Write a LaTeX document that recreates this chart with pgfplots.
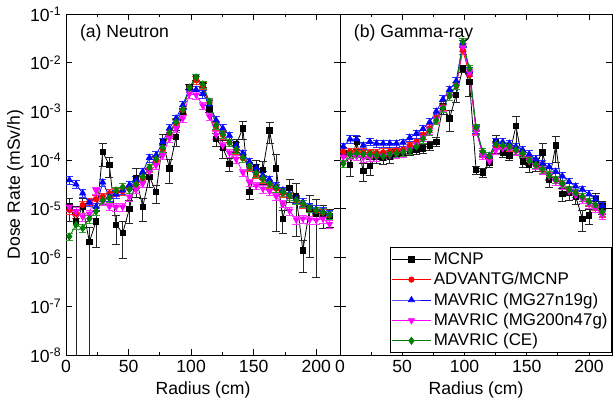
\documentclass[border=0pt]{standalone}
\usepackage{fontspec}
\setmainfont{Liberation Sans}
\usepackage{pgfplots}
\usepackage{pgfplotstable}
\pgfplotsset{compat=1.18}
\definecolor{cad}{RGB}{255,0,0}
\definecolor{cmga}{RGB}{0,0,255}
\definecolor{cmgb}{RGB}{255,0,255}
\definecolor{cce}{RGB}{0,128,0}

% Panel (a) Neutron
\pgfplotstableread{
x mc emc ad mga mgb ce
2.67 1.12e-5 0.5 9.5e-6 3.9e-5 1.1e-5 2.7e-6
8.00 5.6e-6 0.9999 7.9e-6 3.2e-5 8.9e-6 4.7e-6
13.33 1.12e-5 0.5 1.2e-5 2.1e-5 6.9e-6 4.0e-6
18.67 2.1e-6 0.9999 1.41e-5 1.35e-5 7.9e-6 6.3e-6
24.00 5.5e-6 0.7 1.58e-5 1.1e-5 2.4e-5 8.9e-6
29.33 1.48e-4 0.5 1.78e-5 3.5e-5 1.41e-5 1.5e-5
34.67 7.9e-5 0.45 2.1e-5 1.78e-5 1.12e-5 1.66e-5
40.00 4.7e-6 0.6 2.24e-5 2.0e-5 1.1e-5 2.4e-5
45.33 3.2e-6 0.7 2.3e-5 2.4e-5 1.1e-5 2.8e-5
50.67 1.0e-5 0.5 2.6e-5 3.1e-5 1.78e-5 2.5e-5
56.00 4.3e-5 0.6 3.2e-5 3.9e-5 2.5e-5 3.2e-5
61.33 1.1e-5 0.5 4.3e-5 5.8e-5 3.3e-5 4.5e-5
66.67 4.6e-5 0.4 6.8e-5 1.12e-4 5.8e-5 7.1e-5
72.00 2.2e-5 0.4 9.8e-5 1.26e-4 7.9e-5 1.05e-4
77.33 2.4e-4 0.4 1.7e-4 2.4e-4 1.26e-4 1.8e-4
82.67 6.8e-5 0.5 3.5e-4 4.5e-4 2.8e-4 3.7e-4
88.00 3.0e-4 0.35 5.8e-4 7.2e-4 4.5e-4 6.0e-4
93.33 1.0e-3 0.15 1.07e-3 1.35e-3 7.2e-4 1.1e-3
98.67 3.2e-3 0.1 3.1e-3 2.95e-3 2.3e-3 3.1e-3
104.00 4.8e-3 0.1 4.4e-3 2.8e-3 2.2e-3 5.0e-3
109.33 3.5e-3 0.1 3.4e-3 2.3e-3 1.32e-3 3.6e-3
114.67 1.15e-3 0.15 1.5e-3 1.41e-3 7.9e-4 1.58e-3
120.00 2.7e-4 0.3 5.0e-4 6.6e-4 3.3e-4 5.2e-4
125.33 1.8e-4 0.4 3.3e-4 4.5e-4 2.0e-4 3.4e-4
130.67 8.3e-5 0.3 2.3e-4 3.2e-4 1.41e-4 2.3e-4
136.00 2.1e-4 0.3 1.62e-4 2.0e-4 1.05e-4 1.66e-4
141.33 4.5e-4 0.4 1.1e-4 1.38e-4 5.6e-5 1.12e-4
146.67 2.2e-5 0.3 7.2e-5 9.3e-5 3.5e-5 7.6e-5
152.00 7.1e-5 0.4 5.1e-5 6.8e-5 3.0e-5 5.4e-5
157.33 6.3e-5 0.5 4.1e-5 4.9e-5 2.6e-5 4.2e-5
162.67 4.1e-4 0.45 3.2e-5 4.0e-5 2.3e-5 3.3e-5
168.00 6.8e-5 0.95 2.6e-5 3.0e-5 1.8e-5 2.7e-5
173.33 6.2e-6 0.5 2.1e-5 2.4e-5 1.29e-5 2.2e-5
178.67 2.7e-5 0.5 1.8e-5 2.0e-5 9.1e-6 1.86e-5
184.00 1.8e-5 0.85 1.48e-5 1.62e-5 6.0e-6 1.5e-5
189.33 1.4e-6 0.65 1.26e-5 1.38e-5 6.3e-6 1.29e-5
194.67 1.0e-5 0.9 1.02e-5 1.12e-5 6.0e-6 1.05e-5
200.00 7.9e-6 0.95 9.1e-6 9.8e-6 5.9e-6 9.3e-6
205.33 7.9e-6 0.5 8.3e-6 8.9e-6 6.3e-6 8.5e-6
210.67 7.1e-6 0.4 7.4e-6 7.9e-6 4.9e-6 7.6e-6
}\dataA

% Panel (b) Gamma-ray
\pgfplotstableread{
x mc emc ad mga mgb ce
2.67 1.41e-4 0.3 1.48e-4 1.9e-4 1.17e-4 8.5e-5
8.00 7.9e-5 0.4 1.5e-4 2.7e-4 1.26e-4 1.32e-4
13.33 2.4e-4 0.3 1.48e-4 2.7e-4 1.2e-4 1.38e-4
18.67 6.0e-5 0.4 1.45e-4 2.0e-4 1.12e-4 1.32e-4
24.00 7.6e-5 0.35 1.41e-4 2.4e-4 1.17e-4 1.32e-4
29.33 1.17e-4 0.25 1.41e-4 2.2e-4 1.17e-4 1.26e-4
34.67 1.1e-4 0.25 1.45e-4 2.2e-4 1.2e-4 1.2e-4
40.00 1.17e-4 0.25 1.5e-4 2.2e-4 1.26e-4 1.32e-4
45.33 1.38e-4 0.2 1.58e-4 2.2e-4 1.32e-4 1.38e-4
50.67 1.41e-4 0.2 1.66e-4 2.3e-4 1.41e-4 1.45e-4
56.00 1.58e-4 0.2 2.0e-4 2.9e-4 1.66e-4 1.58e-4
61.33 1.66e-4 0.2 2.4e-4 3.5e-4 2.1e-4 1.9e-4
66.67 1.74e-4 0.2 3.2e-4 4.4e-4 2.9e-4 2.75e-4
72.00 2.0e-4 0.2 4.5e-4 6.0e-4 4.2e-4 4.0e-4
77.33 2.4e-4 0.2 7.4e-4 1.0e-3 6.9e-4 6.6e-4
82.67 1.26e-3 0.3 1.26e-3 1.78e-3 1.2e-3 1.17e-3
88.00 7.2e-4 0.45 2.1e-3 2.8e-3 2.1e-3 2.1e-3
93.33 2.2e-3 0.3 3.4e-3 4.2e-3 3.4e-3 3.4e-3
98.67 7.6e-3 0.15 1.82e-2 2.5e-2 2.1e-2 2.7e-2
104.00 4.1e-3 0.5 5.6e-3 6.8e-3 6.3e-3 7.6e-3
109.33 6.3e-5 0.2 4.2e-4 4.4e-4 4.0e-4 4.7e-4
114.67 5.6e-5 0.2 1.38e-4 1.45e-4 1.26e-4 1.5e-4
120.00 8.9e-5 0.2 1.12e-4 1.23e-4 9.5e-5 1.2e-4
125.33 2.3e-4 0.4 2.0e-4 2.4e-4 1.62e-4 2.1e-4
130.67 1.41e-4 0.2 2.0e-4 2.35e-4 1.74e-4 2.0e-4
136.00 1.26e-4 0.2 1.86e-4 2.2e-4 1.74e-4 1.9e-4
141.33 5.0e-4 0.55 1.58e-4 1.9e-4 1.5e-4 1.62e-4
146.67 9.5e-5 0.25 1.35e-4 1.62e-4 1.32e-4 1.38e-4
152.00 7.9e-5 0.3 1.0e-4 1.32e-4 9.5e-5 9.8e-5
157.33 8.5e-5 0.3 7.9e-5 1.05e-4 7.8e-5 8.1e-5
162.67 1.45e-4 0.5 6.3e-5 8.5e-5 6.2e-5 6.5e-5
168.00 3.9e-5 0.3 4.9e-5 7.2e-5 4.7e-5 4.9e-5
173.33 2.0e-4 0.55 4.0e-5 5.8e-5 3.7e-5 4.0e-5
178.67 2.0e-5 0.3 3.3e-5 4.7e-5 3.0e-5 3.3e-5
184.00 2.1e-5 0.3 2.5e-5 3.6e-5 2.3e-5 2.5e-5
189.33 1.8e-5 0.3 2.1e-5 2.9e-5 1.9e-5 2.1e-5
194.67 6.3e-6 0.45 1.74e-5 2.5e-5 1.58e-5 1.78e-5
200.00 7.4e-6 0.35 1.38e-5 2.0e-5 1.26e-5 1.41e-5
205.33 1.62e-5 0.3 1.12e-5 1.58e-5 1.05e-5 1.2e-5
210.67 1.12e-5 0.3 8.3e-6 1.15e-5 7.4e-6 8.7e-6
}\dataB

\pgfplotsset{
  mcstyle/.style={black, line width=0.6pt, mark=square*, mark size=2.0pt,
    error bars/y dir=both, error bars/y explicit relative,
    error bars/error bar style={line width=0.55pt, black!85},
    error bars/error mark options={rotate=90, mark size=3pt, line width=0.55pt, black!85}},
  sim/.style={#1, line width=0.6pt, mark options={fill=#1, draw=#1},
    error bars/y dir=both, error bars/y fixed relative=0.18,
    error bars/error bar style={line width=0.5pt, #1!80},
    error bars/error mark options={rotate=90, mark size=2.8pt, line width=0.5pt, #1!80}},
}

\begin{document}
\begin{tikzpicture}[font=\fontsize{13.2}{15.8}\selectfont]
\begin{axis}[
  scale only axis, ymode=log, log basis y=10,
  height=255.75pt, width=205.5pt,
  xmin=0, xmax=219, ymin=1e-8, ymax=1e-1,
  ytickten={-8,-7,-6,-5,-4,-3,-2,-1},
  xtick={0,50,100,150,200}, xticklabels={0,50,100,150,200},
  minor xtick={25,75,125,175},
  tick align=inside,
  major tick length=4.5pt, minor tick length=2.5pt,
  axis line style={line width=0.7pt},
  tick style={black, line width=0.6pt},
  xlabel={Radius (cm)},
  at={(49.5pt,-266.25pt)}, anchor=south west,
  yticklabel={10\textsuperscript{\pgfmathparse{int(round(\tick))}\pgfmathresult}},
  ylabel={Dose Rate (mSv/h)},
  ylabel style={yshift=-2pt},
]
\addplot[mcstyle] table[x=x, y=mc, y error=emc] {\dataA};
\addplot[sim=cad, mark=*, mark size=2.0pt] table[x=x, y=ad] {\dataA};
\addplot[sim=cmga, mark=triangle*, mark size=2.6pt] table[x=x, y=mga] {\dataA};
\addplot[sim=cmgb, mark=triangle*, mark size=2.6pt, mark options={rotate=180}] table[x=x, y=mgb] {\dataA};
\addplot[sim=cce, mark=diamond*, mark size=2.6pt] table[x=x, y=ce] {\dataA};
\node[anchor=west] at (rel axis cs:0.034,0.944) {(a) Neutron};
\end{axis}
\begin{axis}[
  scale only axis, ymode=log, log basis y=10,
  height=255.75pt, width=204pt,
  xmin=0, xmax=218.5, ymin=1e-8, ymax=1e-1,
  ytickten={-8,-7,-6,-5,-4,-3,-2,-1},
  xtick={0,50,100,150,200}, xticklabels={0,50,100,150,200},
  minor xtick={25,75,125,175},
  tick align=inside,
  major tick length=4.5pt, minor tick length=2.5pt,
  axis line style={line width=0.7pt},
  tick style={black, line width=0.6pt},
  xlabel={Radius (cm)},
  at={(255pt,-266.25pt)}, anchor=south west,
  yticklabels={},
  legend style={at={(1,0)}, anchor=south east, yshift=1.5pt,
    draw=black, line width=0.6pt, fill=white,
    inner xsep=1pt, inner ysep=1.5pt, row sep=0.6pt,
    font=\fontsize{12.7}{15}\selectfont},
  legend cell align=left,
  legend image code/.code={\draw[mark repeat=2, mark phase=2] plot coordinates {(0pt,0pt) (14.5pt,0pt) (29pt,0pt)};},
]
\addplot[mcstyle] table[x=x, y=mc, y error=emc] {\dataB};
\addlegendentry{MCNP}
\addplot[sim=cad, mark=*, mark size=2.0pt] table[x=x, y=ad] {\dataB};
\addlegendentry{ADVANTG/MCNP}
\addplot[sim=cmga, mark=triangle*, mark size=2.6pt] table[x=x, y=mga] {\dataB};
\addlegendentry{MAVRIC (MG27n19g)}
\addplot[sim=cmgb, mark=triangle*, mark size=2.6pt, mark options={rotate=180}] table[x=x, y=mgb] {\dataB};
\addlegendentry{MAVRIC (MG200n47g)}
\addplot[sim=cce, mark=diamond*, mark size=2.6pt] table[x=x, y=ce] {\dataB};
\addlegendentry{MAVRIC (CE)}
\node[anchor=west] at (rel axis cs:0.034,0.944) {(b) Gamma-ray};
\end{axis}
\pgfresetboundingbox
\useasboundingbox (0,0) rectangle (460.5pt,-308.25pt);
\end{tikzpicture}
\end{document}
